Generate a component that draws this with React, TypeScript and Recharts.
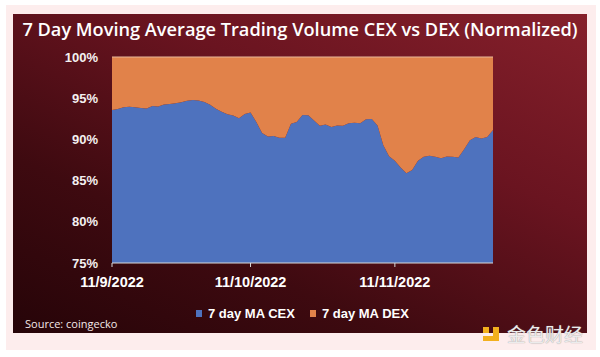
import React from "react";
import { AreaChart, Area, XAxis, YAxis, ReferenceLine } from "recharts";

// 7-day MA share of trading volume (%), hourly from 11/9/2022 00:00
const cexShare: number[] = [
  93.57, 93.7, 93.9, 93.95, 93.9, 93.82, 93.75, 94.05, 94.0, 94.25,
  94.3, 94.38, 94.5, 94.68, 94.78, 94.72, 94.55, 94.2, 93.72, 93.35,
  93.05, 92.9, 92.58, 93.08, 93.25, 92.1, 90.78, 90.35, 90.42, 90.2,
  90.2, 91.9, 92.1, 92.95, 92.92, 92.3, 91.67, 91.8, 91.5, 91.7,
  91.65, 91.95, 92.03, 91.95, 92.45, 92.48, 91.7, 89.3, 87.95, 87.4,
  86.6, 85.9, 86.3, 87.4, 87.9, 88.02, 87.88, 87.7, 87.92, 87.9,
  87.8, 88.8, 89.9, 90.3, 90.1, 90.3, 91.14,
];
const tickHours: number[] = [0, 24, 49];
const tickLabels: string[] = ["11/9/2022", "11/10/2022", "11/11/2022"];
const yTicks: number[] = [75, 80, 85, 90, 95, 100];
const seriesNames: string[] = ["7 day MA CEX", "7 day MA DEX"];
const seriesColors: string[] = ["#4E72BE", "#E1824A"];

const data = cexShare.map((v, i) => ({ h: i, cex: v, dex: +(100 - v).toFixed(2) }));

export default function App() {
  return (
    <div style={{ position: "absolute", left: 0, top: 0, width: 600, height: 357, background: "#ffffff", overflow: "hidden" }}>
      <div style={{ position: "absolute", left: 6, top: 5, width: 590, height: 345, background: "#fdeded" }} />
      <div
        style={{
          position: "absolute",
          left: 13,
          top: 14,
          width: 574,
          height: 319,
          background: "linear-gradient(205deg, #86202b 0%, #6a1420 35%, #3e0a10 70%, #260408 100%)",
        }}
      />
      <div
        style={{
          position: "absolute",
          left: 0,
          top: 16,
          width: 600,
          textAlign: "center",
          color: "#ffffff",
          fontFamily: "'Open Sans', sans-serif",
          fontWeight: 600,
          fontSize: 18.2,
          lineHeight: "26px",
          whiteSpace: "nowrap",
        }}
      >
        7 Day Moving Average Trading Volume CEX vs DEX (Normalized)
      </div>
      <div
        style={{
          position: "absolute",
          left: 25,
          top: 316,
          color: "#f4e8e8",
          fontFamily: "'Open Sans', sans-serif",
          fontWeight: 500,
          fontSize: 11,
          lineHeight: "16px",
        }}
      >
        Source: coingecko
      </div>
      <div style={{ position: "absolute", left: 483, top: 324, display: "flex", alignItems: "center" }}>
        <div style={{ position: "relative", width: 20, height: 14, marginRight: 4 }}>
          <div style={{ position: "absolute", left: 0, top: 0, width: 6, height: 6, background: "#f2b01e" }} />
          <div style={{ position: "absolute", left: 10, top: 0, width: 6, height: 14, background: "#f2b01e" }} />
          <div style={{ position: "absolute", left: 0, top: 9, width: 16, height: 5, background: "#f2b01e" }} />
        </div>
        <span
          style={{
            color: "#ececec",
            fontFamily: "'Noto Sans CJK SC', sans-serif",
            fontSize: 19,
            lineHeight: "20px",
            textShadow: "0 0 1px #888",
          }}
        >
          金色财经
        </span>
      </div>
      <div
        style={{
          position: "absolute",
          left: 196,
          top: 305,
          height: 16,
          display: "flex",
          alignItems: "center",
          fontFamily: "'Liberation Sans', Arial, sans-serif",
          fontWeight: 700,
          fontSize: 13,
          color: "#ffffff",
          whiteSpace: "nowrap",
        }}
      >
        {seriesNames.map((n, k) => (
          <div key={n} style={{ display: "flex", alignItems: "center", marginRight: k === 0 ? 15 : 0 }}>
            <span style={{ display: "inline-block", width: 6, height: 7, background: seriesColors[k], marginRight: 6 }} />
            <span>{n}</span>
          </div>
        ))}
      </div>
      <div style={{ position: "absolute", left: 0, top: 0 }}>
        <AreaChart width={600} height={357} data={data} margin={{ top: 57, right: 107, bottom: 64, left: 62 }}>
          <XAxis
            dataKey="h"
            type="number"
            domain={[0, cexShare.length - 1]}
            ticks={tickHours}
            tickFormatter={(v: number) => tickLabels[tickHours.indexOf(v)] ?? ""}
            axisLine={{ stroke: "#d9d9d9", strokeWidth: 1 }}
            tickLine={{ stroke: "#d9d9d9" }}
            tickSize={4}
            tickMargin={10}
            height={30}
            tick={{ fill: "#ffffff", fontSize: 14.5, fontWeight: 700, fontFamily: "'Liberation Sans', Arial, sans-serif" }}
            allowDataOverflow
          />
          <YAxis
            type="number"
            domain={[75, 100]}
            ticks={yTicks}
            allowDataOverflow
            width={50}
            axisLine={false}
            tickLine={false}
            tickSize={6}
            tickMargin={8}
            tickFormatter={(v: number) => `${v}%`}
            tick={{ fill: "#f4f0f0", fontSize: 13, fontWeight: 700, fontFamily: "'Liberation Sans', Arial, sans-serif" }}
          />
          <Area
            type="linear"
            dataKey="cex"
            name={seriesNames[0]}
            stackId="s"
            stroke="none"
            fill={seriesColors[0]}
            fillOpacity={1}
            isAnimationActive={false}
          />
          <Area
            type="linear"
            dataKey="dex"
            name={seriesNames[1]}
            stackId="s"
            stroke="none"
            fill={seriesColors[1]}
            fillOpacity={1}
            isAnimationActive={false}
          />
          <ReferenceLine y={100} stroke="#e9b89a" strokeWidth={1} />
        </AreaChart>
      </div>
    </div>
  );
}
